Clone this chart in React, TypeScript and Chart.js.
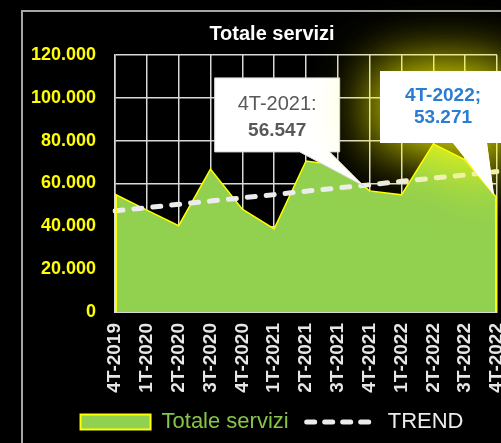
import React, { useEffect, useRef } from 'react';
import { Chart, registerables } from 'chart.js';

Chart.register(...registerables);

const categories = ['4T-2019', '1T-2020', '2T-2020', '3T-2020', '4T-2020', '1T-2021', '2T-2021', '3T-2021', '4T-2021', '1T-2022', '2T-2022', '3T-2022', '4T-2022'];
const totaleServizi = [55000, 47600, 40300, 66700, 48000, 38800, 70500, 68500, 56547, 54700, 78500, 71000, 53271];
const trendValues = [47200, 48700, 50300, 51800, 53300, 54800, 56400, 57900, 59400, 61000, 62500, 64000, 65600];
const yMin = 0;
const yMax = 120000;
const yStep = 20000;
const titleText = 'Totale servizi';
const seriesLabel = 'Totale servizi';
const trendLabel = 'TREND';
const callout1Index = 8;
const callout2Index = 12;

const FONT = "'Liberation Sans', Arial, sans-serif";
const fmt = (v: number) => String(Math.round(v)).replace(/\B(?=(\d{3})+(?!\d))/g, '.');

function calloutPath(ctx: CanvasRenderingContext2D, x: number, y: number, w: number, h: number, b1: number, b2: number, tx: number, ty: number) {
  ctx.beginPath();
  ctx.moveTo(x, y);
  ctx.lineTo(x + w, y);
  ctx.lineTo(x + w, y + h);
  ctx.lineTo(b2, y + h);
  ctx.lineTo(tx, ty);
  ctx.lineTo(b1, y + h);
  ctx.lineTo(x, y + h);
  ctx.closePath();
}

const decorPlugin = {
  id: 'decor',
  beforeDraw(chart: any) {
    const ctx = chart.ctx as CanvasRenderingContext2D;
    ctx.save();
    ctx.fillStyle = '#000000';
    ctx.fillRect(0, 0, chart.width, chart.height);
    ctx.strokeStyle = '#a6a6a6';
    ctx.lineWidth = 2;
    ctx.strokeRect(22, 11, 1000, 1000);
    ctx.restore();
  },
  afterDatasetsDraw(chart: any) {
    const ctx = chart.ctx as CanvasRenderingContext2D;
    const area = chart.chartArea;
    const meta = chart.getDatasetMeta(0);
    const pts = meta.data;
    ctx.save();
    ctx.strokeStyle = '#ffff00';
    ctx.lineWidth = 2;
    ctx.beginPath();
    ctx.moveTo(pts[0].x + 1, pts[0].y);
    ctx.lineTo(pts[0].x + 1, area.bottom);
    ctx.moveTo(pts[pts.length - 1].x - 1, pts[pts.length - 1].y);
    ctx.lineTo(pts[pts.length - 1].x - 1, area.bottom);
    ctx.stroke();
    ctx.restore();

    const p1 = pts[callout1Index];
    {
      const x = p1.x - 155, y = p1.y - 113, w = 125, h = 74;
      ctx.save();
      calloutPath(ctx, x, y, w, h, x + 85, x + 115, p1.x - 6, p1.y - 5);
      ctx.fillStyle = '#ffffff';
      ctx.fill();
      ctx.strokeStyle = '#d9d9d9';
      ctx.lineWidth = 1;
      ctx.stroke();
      ctx.fillStyle = '#595959';
      ctx.textAlign = 'center';
      ctx.textBaseline = 'middle';
      ctx.font = `20px ${FONT}`;
      ctx.fillText(categories[callout1Index] + ':', x + w / 2, y + 27);
      ctx.font = `bold 19px ${FONT}`;
      ctx.fillText(fmt(totaleServizi[callout1Index]), x + w / 2, y + 53);
      ctx.restore();
    }
    const p2 = pts[callout2Index];
    {
      const x = p2.x - 117, y = p2.y - 127, w = 130, h = 72;
      ctx.save();
      ctx.shadowColor = 'rgba(255,255,0,0.7)';
      ctx.shadowBlur = 60;
      calloutPath(ctx, x, y, w, h, x + 73, x + 107, p2.x - 3, p2.y - 3);
      ctx.fillStyle = '#ffffff';
      ctx.fill();
      ctx.fill();
      ctx.restore();
      ctx.save();
      ctx.fillStyle = '#2a7dd1';
      ctx.textAlign = 'center';
      ctx.textBaseline = 'middle';
      ctx.font = `bold 19px ${FONT}`;
      ctx.fillText(categories[callout2Index] + ';', p2.x - 54, y + 25);
      ctx.fillText(fmt(totaleServizi[callout2Index]), p2.x - 54, y + 47);
      ctx.restore();
    }
  },
};

export default function App() {
  const ref = useRef<HTMLCanvasElement | null>(null);

  useEffect(() => {
    if (!ref.current) return;
    const chart = new Chart(ref.current, {
      type: 'line',
      data: {
        labels: categories,
        datasets: [
          {
            label: seriesLabel,
            data: totaleServizi,
            backgroundColor: '#92d050',
            borderColor: '#ffff00',
            borderWidth: 1.5,
            fill: 'origin',
            pointRadius: 0,
            tension: 0,
            order: 2,
          },
          {
            label: trendLabel,
            data: trendValues,
            borderColor: '#ececec',
            borderWidth: 5,
            borderDash: [8, 11],
            borderCapStyle: 'round',
            fill: false,
            pointRadius: 0,
            tension: 0,
            order: 1,
          },
        ],
      },
      options: {
        responsive: false,
        animation: false,
        layout: { padding: { left: 22, right: 4, top: 12, bottom: 0 } },
        scales: {
          x: {
            offset: false,
            grid: { color: '#d9d9d9', lineWidth: 1.5, drawTicks: false },
            border: { color: '#d9d9d9', width: 2 },
            ticks: {
              autoSkip: false,
              maxRotation: 90,
              minRotation: 90,
              padding: 11,
              color: '#e6e6e6',
              font: { family: FONT, size: 19, weight: 'bold' },
            },
            afterFit: (s: any) => { s.height = 81; s.paddingRight = 0; s.paddingLeft = 0; },
          },
          y: {
            min: yMin,
            max: yMax,
            grid: { color: '#d9d9d9', lineWidth: 1.5, drawTicks: false },
            border: { color: '#d9d9d9', width: 1.5 },
            ticks: {
              stepSize: yStep,
              padding: 19,
              color: '#ffff00',
              font: { family: FONT, size: 18, weight: 'bold' },
              callback: (v: any) => fmt(Number(v)),
            },
            afterFit: (s: any) => { s.width = 93; },
          },
          yRight: {
            position: 'right',
            display: true,
            min: yMin,
            max: yMax,
            grid: { display: false, drawTicks: false },
            border: { display: false },
            ticks: { display: false },
            afterFit: (s: any) => { s.width = 25; },
          },
        },
        plugins: {
          title: {
            display: true,
            text: titleText,
            color: '#ffffff',
            font: { family: FONT, size: 20, weight: 'bold' },
            padding: { top: 10, bottom: 9 },
          },
          legend: {
            display: true,
            position: 'bottom',
            labels: {
              usePointStyle: true,
              pointStyleWidth: 70,
              boxHeight: 15,
              padding: 18,
              font: { family: FONT, size: 22 },
              generateLabels: () => [
                {
                  text: seriesLabel,
                  fillStyle: '#92d050',
                  strokeStyle: '#ffff00',
                  lineWidth: 2,
                  pointStyle: 'rect',
                  fontColor: '#84c446',
                  hidden: false,
                  datasetIndex: 0,
                } as any,
                {
                  text: trendLabel,
                  fillStyle: 'rgba(0,0,0,0)',
                  strokeStyle: '#ececec',
                  lineWidth: 5,
                  lineDash: [8, 10],
                  lineCap: 'round',
                  pointStyle: 'line',
                  fontColor: '#ececec',
                  hidden: false,
                  datasetIndex: 1,
                } as any,
              ],
            },
          },
          tooltip: { enabled: false },
        },
      },
      plugins: [decorPlugin],
    } as any);
    return () => chart.destroy();
  }, []);

  return (
    <div style={{ position: 'fixed', left: 0, top: 0, width: 501, height: 443, background: '#000', overflow: 'hidden' }}>
      <canvas ref={ref} width={526} height={443} style={{ display: 'block', width: 526, height: 443 }} />
    </div>
  );
}
